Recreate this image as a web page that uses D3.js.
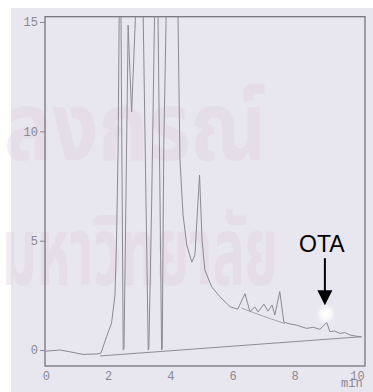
<!DOCTYPE html>
<html>
<head>
<meta charset="utf-8">
<script src="https://cdn.jsdelivr.net/npm/d3@7"></script>
<style>
  html, body { margin: 0; padding: 0; background: #ffffff; }
  #chart { width: 373px; height: 392px; }
</style>
</head>
<body>
<div id="chart"></div>
<script>
// chromatogram: time (min) vs detector signal
// values of 16 are off-scale (pen past the top of the frame)
var traceTime = [0.00, 0.45, 0.77, 1.19, 1.64, 1.77, 1.95, 2.11, 2.22, 2.27, 2.32, 2.36, 2.41,
  2.485, 2.51, 2.63, 2.643, 2.685, 2.756, 2.90, 3.12, 3.29, 3.31, 3.40, 3.50, 3.60,
  3.72, 3.74, 3.79, 3.875, 4.18, 4.24, 4.31, 4.41, 4.53, 4.69, 4.79, 4.94, 5.02, 5.11,
  5.33, 5.59, 5.92, 6.17, 6.40, 6.56, 6.72, 6.82, 7.01, 7.14, 7.27, 7.36, 7.52, 7.65,
  7.85, 8.06, 8.38, 8.59, 8.81, 9.03, 9.13, 9.29, 9.45, 9.61, 9.77, 10.15];
var traceSignal = [-0.05, 0.00, -0.08, -0.20, -0.18, -0.14, 0.61, 1.23, 2.51, 5.03, 9.14, 16, 16,
  0.00, 0.05, 13.26, 14.86, 13.26, 10.88, 16, 16, 0.00, 0.09, 6.72, 16, 16,
  0.00, 0.09, 9.37, 16, 16, 16, 8.69, 6.17, 4.80, 4.02, 4.34, 8.00, 5.03, 3.66,
  2.89, 2.44, 1.98, 1.87, 2.58, 1.76, 1.97, 1.74, 2.10, 1.78, 2.06, 1.60, 2.67, 1.28,
  1.19, 1.14, 0.99, 1.04, 0.95, 1.26, 0.84, 0.87, 0.76, 0.80, 0.69, 0.59];

// integrator baseline (straight) and the drop line under the small tail peaks
var baseTime = [1.74, 10.15];
var baseSignal = [-0.27, 0.61];
var dropTime = [6.29, 6.95, 7.68];
var dropSignal = [1.92, 1.56, 1.21];

var yTicks = [0, 5, 10, 15];
var xTicks = [0, 2, 4, 6, 8, 10];
var xUnit = "min";

var otaLabel = "OTA";
var otaTime = 8.97;
var otaArrowTop = 4.2;
var otaArrowTip = 2.05;
var otaGlow = 1.65;

var watermarkRows = ["ลงกรณ์", "มหาวิทยาลัย"];

var W = 373, H = 392;
var paper = {left: 11, top: 8};

var x = d3.scaleLinear().domain([-0.03, 10.26]).range([45, 365]);
var y = d3.scaleLinear().domain([-0.73, 15.24]).range([366, 16.7]);

var svg = d3.select("#chart").append("svg")
    .attr("width", W)
    .attr("height", H);

var defs = svg.append("defs");
defs.append("clipPath").attr("id", "plotclip")
  .append("rect")
    .attr("x", x.range()[0]).attr("y", y.range()[1])
    .attr("width", x.range()[1] - x.range()[0])
    .attr("height", y.range()[0] - y.range()[1]);
defs.append("filter").attr("id", "glow")
  .append("feGaussianBlur").attr("stdDeviation", 2.4);

// scanned paper
svg.append("rect")
    .attr("x", paper.left).attr("y", paper.top)
    .attr("width", W - paper.left).attr("height", H - paper.top)
    .attr("fill", "#e8e6ef");

// faint watermark of the scanned thesis page
svg.selectAll(".wm")
    .data(watermarkRows)
    .enter().append("text")
    .attr("class", "wm")
    .attr("x", function(d, i) { return i == 0 ? 4 : 2; })
    .attr("y", function(d, i) { return i == 0 ? 160 : 285; })
    .attr("textLength", function(d, i) { return i == 0 ? 262 : 276; })
    .attr("lengthAdjust", "spacingAndGlyphs")
    .style("font-family", "'Noto Sans Thai', 'Noto Sans', 'DejaVu Sans', sans-serif")
    .style("font-size", "96px")
    .style("font-weight", "bold")
    .style("fill", "#e2d2df")
    .style("fill-opacity", 0.45)
    .text(function(d) { return d; });

// frame
svg.append("rect")
    .attr("x", x.range()[0]).attr("y", y.range()[1])
    .attr("width", x.range()[1] - x.range()[0])
    .attr("height", y.range()[0] - y.range()[1])
    .attr("fill", "none")
    .attr("stroke", "#77767f")
    .attr("stroke-width", 1.3);

// axes
var yAxis = svg.append("g")
    .attr("transform", "translate(" + x.range()[0] + ",0)")
    .call(d3.axisLeft(y).tickValues(yTicks).tickSize(5).tickPadding(2));
var xAxis = svg.append("g")
    .attr("transform", "translate(0," + y.range()[0] + ")")
    .call(d3.axisBottom(x).tickValues(xTicks).tickSize(0).tickPadding(5));
[yAxis, xAxis].forEach(function(a) {
  a.select(".domain").remove();
  a.selectAll("line").attr("stroke", "#8a8992");
  a.selectAll("text")
    .attr("fill", "#8a8992")
    .style("font-family", "'Liberation Mono', 'DejaVu Sans Mono', monospace")
    .style("font-size", "12px");
});
svg.append("text")
    .attr("x", x(10) - 5).attr("y", y.range()[0] + 21)
    .attr("text-anchor", "middle")
    .attr("fill", "#8a8992")
    .style("font-family", "'Liberation Mono', 'DejaVu Sans Mono', monospace")
    .style("font-size", "12px")
    .text(xUnit);

// trace
var plot = svg.append("g").attr("clip-path", "url(#plotclip)");
var line = d3.line()
    .x(function(d) { return x(d[0]); })
    .y(function(d) { return y(d[1]); });

plot.append("path")
    .datum(d3.zip(baseTime, baseSignal))
    .attr("d", line)
    .attr("fill", "none").attr("stroke", "#8d8c98").attr("stroke-width", 1);
plot.append("path")
    .datum(d3.zip(dropTime, dropSignal))
    .attr("d", line.curve(d3.curveBasis))
    .attr("fill", "none").attr("stroke", "#9a99a4").attr("stroke-width", 0.9);
plot.append("path")
    .datum(d3.zip(traceTime, traceSignal))
    .attr("d", line.curve(d3.curveLinear))
    .attr("fill", "none").attr("stroke", "#8a8995").attr("stroke-width", 1)
    .attr("stroke-linejoin", "round");

// OTA marker
svg.append("circle")
    .attr("cx", x(otaTime) + 1).attr("cy", y(otaGlow))
    .attr("r", 7)
    .attr("fill", "#ffffff")
    .attr("filter", "url(#glow)");
svg.append("line")
    .attr("x1", x(otaTime)).attr("x2", x(otaTime))
    .attr("y1", y(otaArrowTop)).attr("y2", y(otaArrowTip) - 14)
    .attr("stroke", "#000").attr("stroke-width", 2);
svg.append("path")
    .attr("d", "M" + (x(otaTime) - 7.5) + "," + (y(otaArrowTip) - 15) +
               "L" + (x(otaTime) + 7.5) + "," + (y(otaArrowTip) - 15) +
               "L" + x(otaTime) + "," + y(otaArrowTip) + "Z")
    .attr("fill", "#000");
svg.append("text")
    .attr("x", x(otaTime) - 3).attr("y", y(otaArrowTop) - 6)
    .attr("text-anchor", "middle")
    .style("font-family", "'Liberation Sans', Arial, sans-serif")
    .style("font-size", "23px")
    .attr("fill", "#000")
    .text(otaLabel);
</script>
</body>
</html>
